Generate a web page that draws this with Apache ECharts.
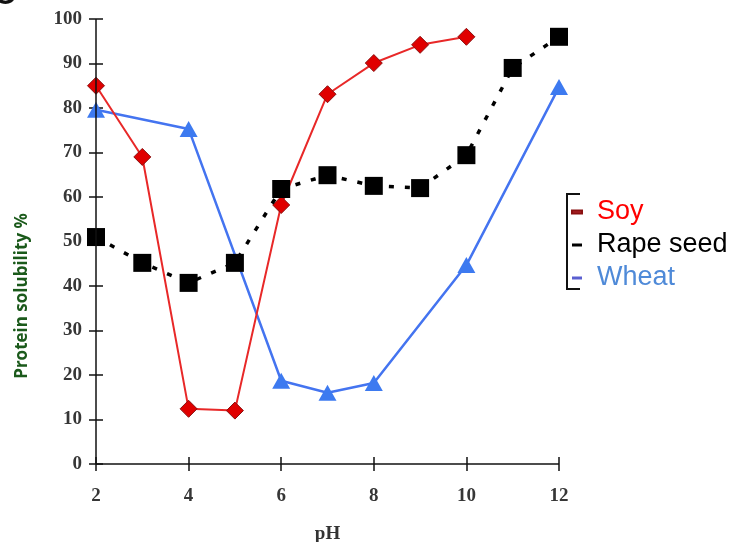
<!DOCTYPE html>
<html>
<head>
<meta charset="utf-8">
<script src="https://cdn.jsdelivr.net/npm/echarts@6/dist/echarts.min.js"></script>
<style>
html,body{margin:0;padding:0;background:#fff;}
#chart{width:737px;height:542px;}
</style>
</head>
<body>
<div id="chart"></div>
<script>
// Protein solubility (%) against pH for three protein sources
const phSoy = [2, 3, 4, 5, 6, 7, 8, 9, 10];
const soy = [85, 69, 12.4, 12, 58.2, 83.1, 90.1, 94.2, 96];

const phRape = [2, 3, 4, 5, 6, 7, 8, 9, 10, 11, 12];
const rapeSeed = [51, 45.2, 40.7, 45.2, 61.8, 64.9, 62.5, 62, 69.4, 89, 96];

const phWheat = [2, 4, 6, 7, 8, 10, 12];
const wheat = [79.6, 75.3, 18.7, 16, 18.2, 44.7, 84.7];

const seriesNames = ['Soy', 'Rape seed', 'Wheat'];
const xTicks = [2, 4, 6, 8, 10, 12];
const yTicks = [0, 10, 20, 30, 40, 50, 60, 70, 80, 90, 100];
const yTitle = 'Protein solubility %';
const xTitle = 'pH';

const pairs = (xs, ys) => xs.map((x, i) => [x, ys[i]]);

const chart = echarts.init(document.getElementById('chart'));

const AXIS = '#111';
const HALF_TICK = 7;

const tickLabel = {
  fontFamily: '"Liberation Serif", "Times New Roman", serif',
  fontWeight: 'bold',
  fontSize: 19,
  color: '#363636'
};
// Axes are pushed half a tick into the plot and drawn with double-length
// ticks, so every tick mark crosses the axis line.
const crossTick = { show: true, inside: false, length: HALF_TICK * 2, lineStyle: { color: AXIS, width: 1.5 } };

chart.setOption({
  animation: false,
  backgroundColor: '#fff',
  grid: { left: 96, right: 178, top: 19, bottom: 78, containLabel: false, outerBoundsMode: 'none' },
  xAxis: {
    type: 'value',
    min: xTicks[0],
    max: xTicks[xTicks.length - 1],
    interval: 2,
    position: 'bottom',
    offset: -HALF_TICK,
    splitLine: { show: false },
    axisLine: { show: false },
    axisTick: crossTick,
    axisLabel: Object.assign({ margin: 23 + HALF_TICK }, tickLabel),
    name: xTitle,
    nameLocation: 'middle',
    nameGap: 61 + HALF_TICK,
    nameTextStyle: { fontFamily: '"Liberation Serif", serif', fontWeight: 'bold', fontSize: 19, color: '#333' }
  },
  yAxis: {
    type: 'value',
    min: yTicks[0],
    max: yTicks[yTicks.length - 1],
    interval: 10,
    position: 'left',
    offset: -HALF_TICK,
    splitLine: { show: false },
    axisLine: { show: false },
    axisTick: crossTick,
    axisLabel: Object.assign({ margin: 14 + HALF_TICK, padding: [4, 0, 0, 0] }, tickLabel)
  },
  legend: {
    orient: 'vertical',
    left: 571,
    top: 198,
    padding: 0,
    itemWidth: 10,
    itemHeight: 3,
    itemGap: 5,
    textStyle: { fontFamily: '"Liberation Sans", Arial, sans-serif', fontSize: 27, lineHeight: 28, padding: [0, 0, 0, 10] },
    data: [
      { name: seriesNames[0], icon: 'rect', itemStyle: { color: '#b5272e' }, textStyle: { color: '#ff0000' } },
      { name: seriesNames[1], icon: 'rect', itemStyle: { color: '#000' }, textStyle: { color: '#000' } },
      { name: seriesNames[2], icon: 'rect', itemStyle: { color: '#5a5fd0' }, textStyle: { color: '#4f8ad8' } }
    ]
  },
  graphic: [
    {
      type: 'polyline',
      shape: { points: [[580, 194], [567, 194], [567, 289], [580, 289]] },
      style: { stroke: '#111', lineWidth: 2, fill: null }
    },
    {
      type: 'text',
      x: 22,
      y: 296,
      rotation: Math.PI / 2,
      style: {
        text: yTitle,
        font: 'bold 17px "Open Sans", "Noto Sans", sans-serif',
        fill: '#1b5a1b',
        align: 'center',
        verticalAlign: 'middle'
      }
    },
    {
      type: 'text',
      x: -6,
      y: -19,
      style: { text: 'C', font: 'bold 30px "Liberation Sans", sans-serif', fill: '#111', verticalAlign: 'top' }
    }
  ],
  series: [
    {
      name: seriesNames[0],
      type: 'line',
      data: pairs(phSoy, soy),
      symbol: 'diamond',
      symbolSize: 17,
      lineStyle: { color: '#e82828', width: 2 },
      itemStyle: { color: '#e00000', borderColor: '#8a1010', borderWidth: 1 },
      z: 3
    },
    {
      name: seriesNames[1],
      type: 'line',
      data: pairs(phRape, rapeSeed),
      symbol: 'rect',
      symbolSize: 18,
      lineStyle: { color: '#000', width: 3.5, type: [5, 11] },
      itemStyle: { color: '#000' },
      z: 4
    },
    {
      name: seriesNames[2],
      type: 'line',
      data: pairs(phWheat, wheat),
      symbol: 'triangle',
      symbolSize: [18, 16],
      lineStyle: { color: '#4474f0', width: 2.5 },
      itemStyle: { color: '#3d7af0' },
      z: 2,
      // axis lines along pH = 2 and solubility = 0
      markLine: {
        silent: true,
        symbol: 'none',
        label: { show: false },
        lineStyle: { color: AXIS, width: 1.5, type: 'solid' },
        data: [{ xAxis: xTicks[0] }, { yAxis: yTicks[0] }]
      }
    }
  ]
});
</script>
</body>
</html>
